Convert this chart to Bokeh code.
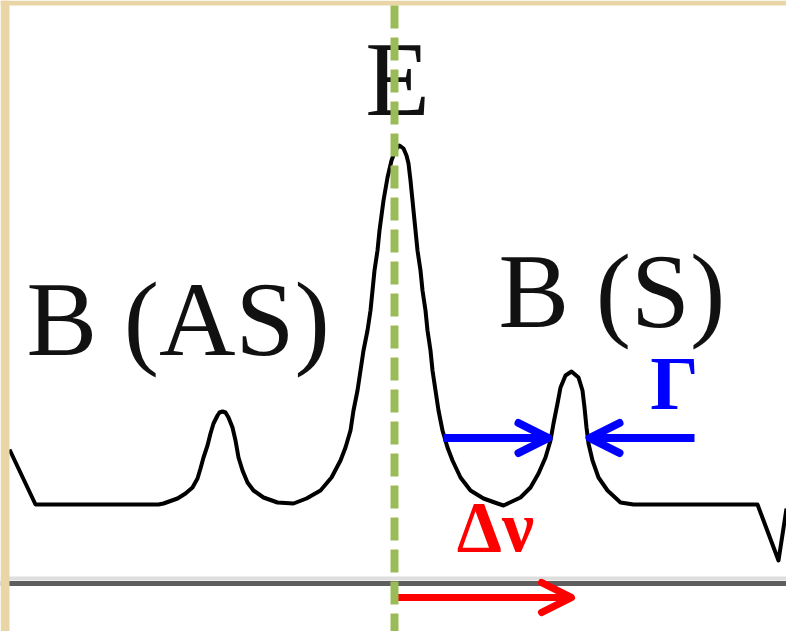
from bokeh.plotting import figure
from bokeh.models import Range1d, Span, Arrow, OpenHead, Label, BoxAnnotation
from bokeh.embed import file_html
from bokeh.resources import INLINE

# Brillouin spectrum trace: frequency shift relative to the pump line E (arb. units)
freq = [-38.5, -35.9, -23.6,
        # anti-Stokes line
        -23.1, -21.7, -20.9, -20.2, -19.7, -19.4, -19.1, -18.7, -18.4, -18.1,
        -17.7, -17.5, -17.2, -16.9, -16.6, -16.2, -15.9, -15.6, -15.2, -14.7,
        -14.1, -13.1, -11.7,
        # pump line E
        -10.1, -8.8, -7.4, -6.3, -5.4, -4.9, -4.4, -4.1, -3.7, -3.4,
        -3.1, -2.7, -2.4, -2.2, -2.0, -1.7, -1.5, -1.1, -0.7, -0.3,
        0.1, 0.5, 0.9, 1.2, 1.4, 1.6, 1.8, 2.1, 2.3, 2.6,
        2.8, 3.1, 3.3, 3.6, 3.8, 4.1, 4.4, 4.8, 5.3, 5.8,
        6.6, 7.6, 8.9, 10.3, 10.9,
        # Stokes line
        12.6, 13.6, 14.4, 15.1, 15.6, 15.9, 16.3, 16.6, 17.1, 17.7,
        18.4, 18.8, 19.0, 19.2, 19.4, 19.8, 20.4, 21.3, 22.6, 23.9,
        36.3, 38.4, 39.2]
# Detected intensity (arb. units)
intensity = [13.4, 7.9, 7.9,
             8.0, 8.5, 9.0, 9.6, 10.5, 11.5, 12.6, 13.8, 15.0, 16.0,
             16.8, 17.1, 17.2, 17.1, 16.6, 15.6, 14.3, 12.6, 11.3, 10.1,
             9.3, 8.6, 8.1,
             8.0, 8.5, 9.3, 10.6, 12.3, 13.6, 15.3, 17.3, 19.3, 21.3,
             23.3, 25.3, 27.3, 29.3, 31.3, 33.3, 35.3, 38.3, 40.6, 42.3,
             43.4, 43.8, 43.5, 42.8, 42.0, 40.3, 38.3, 35.3, 33.3, 31.3,
             29.3, 27.3, 25.3, 23.3, 21.3, 19.3, 17.3, 15.3, 13.6, 12.3,
             10.6, 9.3, 8.5, 8.0, 7.8,
             8.6, 9.6, 11.0, 12.6, 14.3, 16.0, 18.0, 19.6, 20.8, 21.2,
             20.6, 19.3, 17.6, 15.6, 14.0, 12.3, 10.6, 9.3, 8.1, 7.9,
             7.9, 2.3, 7.5]

# Line positions and levels
nu_E = 0.0
nu_S = 17.7
nu_AS = -17.2
baseline = 7.9
peak_S = 21.2
half_max_S = baseline + (peak_S - baseline) / 2
gamma_lo = 15.6   # half-maximum crossings of the Stokes line
gamma_hi = 19.3

peak_labels = ["E", "B (AS)", "B (S)"]
width_label = "Γ"
shift_label = "Δν"

x_lo, x_hi = -39.4, 39.2
y_lo, y_hi = -4.8, 58.3

p = figure(width=786, height=631, output_backend="svg", toolbar_location=None,
           x_range=Range1d(x_lo, x_hi), y_range=Range1d(y_lo, y_hi),
           x_axis_location=None, y_axis_location=None,
           min_border=0, border_fill_color="white", background_fill_color="white",
           outline_line_color=None)
p.grid.visible = False

# frequency axis (with its light highlight)
p.add_layout(Span(location=0.5, dimension="width", line_color="#DEDEDE", line_width=4))
p.add_layout(Span(location=0.0, dimension="width", line_color="#5E5E5E", line_width=5))

# spectrum
p.line(freq, intensity, line_color="black", line_width=4, line_join="round")

serif = "Liberation Serif"
ink = "#111111"
p.add_layout(Label(x=nu_E + 0.3, y=44.6, text=peak_labels[0], text_align="center",
                   text_baseline="bottom", text_font=serif,
                   text_font_size="106px", text_color=ink))
p.add_layout(Label(x=-36.8, y=20.6, text=peak_labels[1], text_align="left",
                   text_baseline="bottom", text_font=serif,
                   text_font_size="106px", text_color=ink))
p.add_layout(Label(x=10.4, y=23.4, text=peak_labels[2], text_align="left",
                   text_baseline="bottom", text_font=serif,
                   text_font_size="106px", text_color=ink))

# linewidth markers at half maximum
blue = "#0000FF"
p.add_layout(Arrow(x_start=4.9, y_start=half_max_S, x_end=gamma_lo - 0.2, y_end=half_max_S,
                   line_color=blue, line_width=8,
                   end=OpenHead(size=30, line_color=blue, line_width=8,
                                line_cap="round", line_join="round")))
p.add_layout(Arrow(x_start=30.0, y_start=half_max_S, x_end=gamma_hi + 0.2, y_end=half_max_S,
                   line_color=blue, line_width=8,
                   end=OpenHead(size=30, line_color=blue, line_width=8,
                                line_cap="round", line_join="round")))
p.add_layout(Label(x=28.0, y=15.9, text=width_label, text_align="center",
                   text_baseline="bottom", text_font=serif, text_font_style="bold",
                   text_font_size="76px", text_color=blue))

# Brillouin shift
red = "#FF0000"
p.add_layout(Arrow(x_start=nu_E, y_start=-1.4, x_end=nu_S, y_end=-1.4,
                   line_color=red, line_width=7,
                   end=OpenHead(size=30, line_color=red, line_width=7,
                                line_cap="round", line_join="round")))
p.add_layout(Label(x=10.1, y=1.7, text=shift_label, text_align="center",
                   text_baseline="bottom", text_font=serif, text_font_style="bold",
                   text_font_size="72px", text_color=red))

# slide frame strips along the left and top edges
tan = "#EAD5A6"
p.add_layout(BoxAnnotation(left=x_lo, right=-38.5, bottom=y_lo, top=y_hi,
                           fill_color=tan, fill_alpha=1, line_color=None))
p.add_layout(BoxAnnotation(left=x_lo, right=x_hi, bottom=57.8, top=y_hi,
                           fill_color=tan, fill_alpha=1, line_color=None))

# pump line position, drawn over everything below the frame strip
pump = p.segment(x0=[nu_E], y0=[57.8], x1=[nu_E], y1=[y_lo], line_color="#9BBB59",
                 line_width=8, line_dash="23 9")
pump.level = "overlay"

open("out.html", "w").write(file_html(p, INLINE))
